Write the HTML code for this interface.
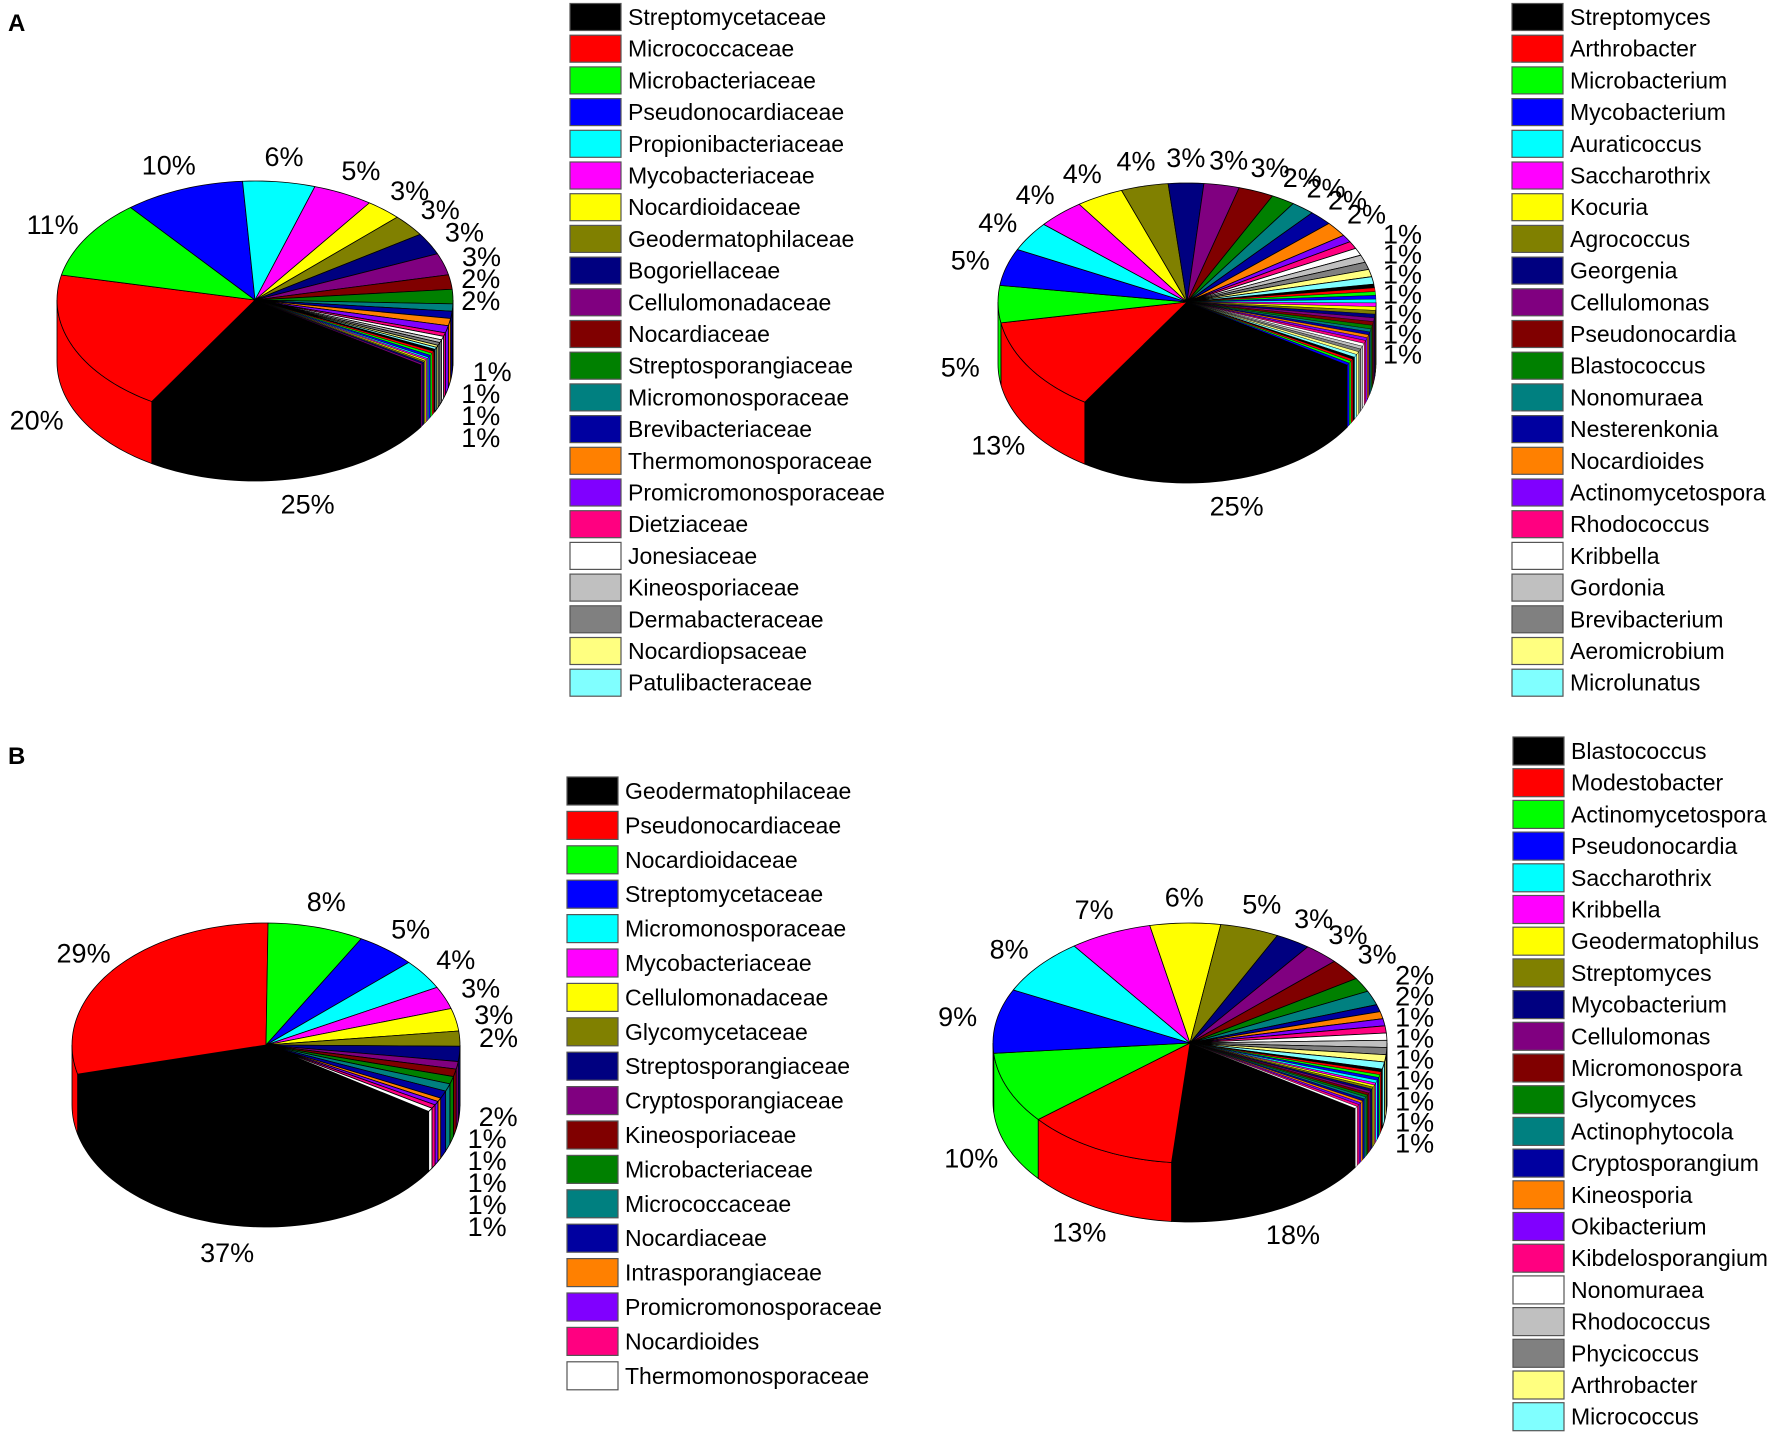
<!DOCTYPE html>
<html><head><meta charset="utf-8">
<style>
html,body{margin:0;padding:0;background:#fff;}
svg{display:block;font-family:"Liberation Sans",Arial,sans-serif;}
</style></head>
<body>
<svg id="fig" width="1772" height="1435" viewBox="0 0 1772 1435" xmlns="http://www.w3.org/2000/svg">
<text x="8" y="31" font-size="24" font-weight="bold">A</text>
<text x="8" y="764" font-size="24" font-weight="bold">B</text>
</svg>
<script>
const palette = ["#000000","#ff0000","#00ff00","#0000ff","#00ffff","#ff00ff","#ffff00","#808000","#000080","#800080","#800000","#008000","#008080","#0000a0","#ff8000","#8000ff","#ff0080","#ffffff","#c0c0c0","#808080","#ffff80","#80ffff"];

// Panel A left: families
const catsA1 = ["Streptomycetaceae","Micrococcaceae","Microbacteriaceae","Pseudonocardiaceae","Propionibacteriaceae","Mycobacteriaceae","Nocardioidaceae","Geodermatophilaceae","Bogoriellaceae","Cellulomonadaceae","Nocardiaceae","Streptosporangiaceae","Micromonosporaceae","Brevibacteriaceae","Thermomonosporaceae","Promicromonosporaceae","Dietziaceae","Jonesiaceae","Kineosporiaceae","Dermabacteraceae","Nocardiopsaceae","Patulibacteraceae"];
const valsA1 = [25,20,11,10,6,5,3,3,3,3,2,2,1,1,1,1,0.5,0.5,0.4,0.4,0.3,0.3];
const othersA1 = [0.3,0.3,0.3,0.3,0.2,0.2,0.2,0.2,0.2,0.2];
const labelsA1 = ["25%","20%","11%","10%","6%","5%","3%","3%","3%","3%","2%","2%","1%","1%","1%","1%"];

// Panel A right: genera
const catsA2 = ["Streptomyces","Arthrobacter","Microbacterium","Mycobacterium","Auraticoccus","Saccharothrix","Kocuria","Agrococcus","Georgenia","Cellulomonas","Pseudonocardia","Blastococcus","Nonomuraea","Nesterenkonia","Nocardioides","Actinomycetospora","Rhodococcus","Kribbella","Gordonia","Brevibacterium","Aeromicrobium","Microlunatus"];
const valsA2 = [25,13,5,5,4,4,4,4,3,3,3,2,2,2,2,1,1,1,1,1,1,1];
const othersA2 = [0.5,0.5,0.5,0.5,0.5,0.5,0.5,0.5,0.5,0.5,0.5,0.5,0.4,0.4,0.4,0.4,0.4,0.4,0.4,0.4,0.4,0.4,0.3,0.3,0.3,0.3];
const labelsA2 = ["25%","13%","5%","5%","4%","4%","4%","4%","3%","3%","3%","2%","2%","2%","2%","1%","1%","1%","1%","1%","1%","1%"];

// Panel B left: families
const catsB1 = ["Geodermatophilaceae","Pseudonocardiaceae","Nocardioidaceae","Streptomycetaceae","Micromonosporaceae","Mycobacteriaceae","Cellulomonadaceae","Glycomycetaceae","Streptosporangiaceae","Cryptosporangiaceae","Kineosporiaceae","Microbacteriaceae","Micrococcaceae","Nocardiaceae","Intrasporangiaceae","Promicromonosporaceae","Nocardioides","Thermomonosporaceae"];
const valsB1 = [37,29,8,5,4,3,3,2,2,1,1,1,1,1,0.5,0.5,0.5,0.5];
const othersB1 = [];
const labelsB1 = ["37%","29%","8%","5%","4%","3%","3%","2%","2%","1%","1%","1%","1%","1%"];

// Panel B right: genera
const catsB2 = ["Blastococcus","Modestobacter","Actinomycetospora","Pseudonocardia","Saccharothrix","Kribbella","Geodermatophilus","Streptomyces","Mycobacterium","Cellulomonas","Micromonospora","Glycomyces","Actinophytocola","Cryptosporangium","Kineosporia","Okibacterium","Kibdelosporangium","Nonomuraea","Rhodococcus","Phycicoccus","Arthrobacter","Micrococcus"];
const valsB2 = [18,13,10,9,8,7,6,5,3,3,3,2,2,1,1,1,1,1,1,1,1,1];
const othersB2 = [0.4,0.4,0.4,0.4,0.4,0.3,0.3,0.3,0.3,0.3,0.3,0.3,0.3,0.3,0.3,0.3,0.3,0.3];
const labelsB2 = ["18%","13%","10%","9%","8%","7%","6%","5%","3%","3%","3%","2%","2%","1%","1%","1%","1%","1%","1%","1%"];

const NS = "http://www.w3.org/2000/svg";
const svg = document.getElementById("fig");
function mk(tag, attrs, parent){const e=document.createElementNS(NS,tag);for(const k in attrs)e.setAttribute(k,attrs[k]);(parent||svg).appendChild(e);return e;}

function drawPie(id, cats, vals, others, labels, cx, cy, rx, ry, depth, startDeg, gap){
  const g = mk("g",{});
  
  
  const all = vals.concat(others);
  const total = all.reduce((a,b)=>a+b,0);
  const slices = [];
  let ang = startDeg;
  all.forEach((v,i)=>{
    const sweep = v/total*360;
    slices.push({i, a1: ang, a2: ang+sweep, color: palette[i % palette.length]});
    ang += sweep;
  });
  const P = (deg, dy)=>{const r=deg*Math.PI/180;return [cx+rx*Math.cos(r), cy+ry*Math.sin(r)+(dy||0)];};
  slices.forEach(s=>{
    for(let k=-1;k<=1;k++){
      const lo=Math.max(s.a1, k*360), hi=Math.min(s.a2, k*360+180);
      if(hi<=lo) continue;
      let d="M"+P(lo).join(",");
      const n=Math.max(2,Math.ceil((hi-lo)/2));
      for(let j=1;j<=n;j++) d+=" L"+P(lo+(hi-lo)*j/n).join(",");
      for(let j=n;j>=0;j--) d+=" L"+P(lo+(hi-lo)*j/n, depth).join(",");
      d+=" Z";
      const p = mk("path",{d, fill:s.color, stroke:"#000","stroke-width":s.i<vals.length?0.8:0.4},g);
      
      
    }
  });
  slices.forEach(s=>{
    let d="M"+cx+","+cy;
    const n=Math.max(2,Math.ceil((s.a2-s.a1)/2));
    for(let j=0;j<=n;j++) d+=" L"+P(s.a1+(s.a2-s.a1)*j/n).join(",");
    d+=" Z";
    const p = mk("path",{d, fill:s.color, stroke:"#000","stroke-width":s.i<vals.length?0.8:0.4,"stroke-linejoin":"round"},g);
    
    
  });
  let prevY = -1e9;
  labels.forEach((t,i)=>{
    const s=slices[i]; const m=(s.a1+s.a2)/2; const r=m*Math.PI/180;
    const sn=Math.sin(r), cs=Math.cos(r);
    let x=cx+rx*1.2*cs;
    let y=cy+ry*1.22*sn+(sn>0?depth:0)+10;
    if(i>0 && cs>0.3){
      if(cs>0.8 && y < prevY + gap){ y = prevY + gap; x = cx + rx*1.14; }
      prevY = y;
    }
    const tx = mk("text",{x, y, "font-size":27, "text-anchor":"middle"},g);
    tx.textContent=t;
    
    
  });
}

function drawLegend(id, cats, x, y0, step, h){
  const g = mk("g",{});
  
  
  cats.forEach((c,i)=>{
    const yc = y0 + i*step;
    const r = mk("rect",{x, y:yc-h/2, width:51, height:h, fill:palette[i], stroke:"#555","stroke-width":1.2},g);
    
    
    const t = mk("text",{x:x+58, y:yc+8, "font-size":23},g);
    t.textContent=c;
    
    
  });
}

drawPie("pie-a-families", catsA1, valsA1, othersA1, labelsA1, 255, 300, 198, 119, 62, 33, 22);
drawPie("pie-a-genera", catsA2, valsA2, othersA2, labelsA2, 1187, 302, 189, 119, 62, 32, 20);
drawPie("pie-b-families", catsB1, valsB1, othersB1, labelsB1, 266, 1045, 194, 122, 60, 33, 22);
drawPie("pie-b-genera", catsB2, valsB2, othersB2, labelsB2, 1190, 1043, 197, 120, 59, 33, 21);

drawLegend("legend-a-families", catsA1, 570, 17, 31.7, 27);
drawLegend("legend-a-genera", catsA2, 1512, 17, 31.7, 27);
drawLegend("legend-b-families", catsB1, 567, 791, 34.4, 28);
drawLegend("legend-b-genera", catsB2, 1513, 751, 31.7, 28);
</script>
</body></html>
